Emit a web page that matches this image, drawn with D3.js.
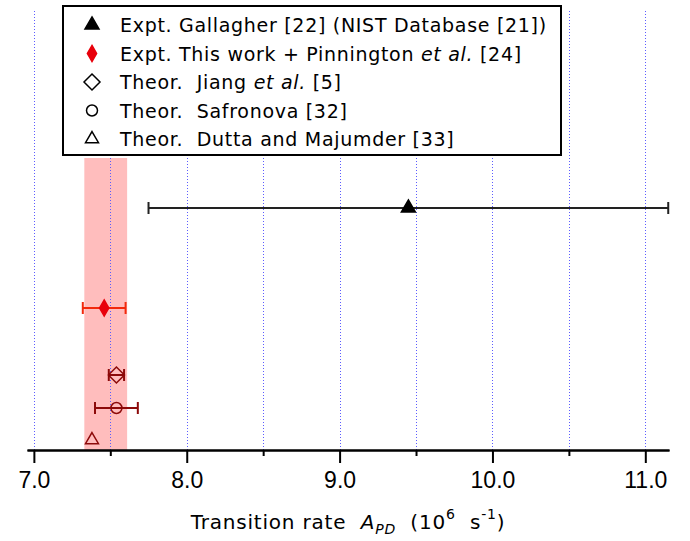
<!DOCTYPE html>
<html>
<head>
<meta charset="utf-8">
<script src="https://cdn.jsdelivr.net/npm/d3@7"></script>
<style>
  body { margin: 0; background: #fff; }
  svg text { font-family: "DejaVu Sans", Verdana, sans-serif; white-space: pre; }
</style>
</head>
<body>
<div id="chart"></div>
<script>
var svgWidth = 690;
var svgHeight = 541;

// data
var seriesNames = ["Gallagher", "This work + Pinnington", "Jiang", "Safronova", "Dutta and Majumder"];
var rates = [9.45, 7.46, 7.54, 7.54, 7.38];          // 10^6 s^-1
var rateErrors = [1.70, 0.14, 0.05, 0.14, 0];
var rowLevels = [24.2, 14.2, 7.5, 4.2, 1.0];          // vertical placement (arbitrary units)
var bandRange = [7.33, 7.61];                         // shaded band for this work
var bandTop = 29.2;
var majorTicks = [7, 8, 9, 10, 11];
var minorTicks = [7.5, 8.5, 9.5, 10.5];
var gridTicks = [7, 7.5, 8, 8.5, 9, 9.5, 10, 10.5, 11];

var x = d3.scaleLinear().domain([6.955, 11.155]).range([27, 669]);
var y = d3.scaleLinear().domain([0, 43.9]).range([450, 11]);

var svg = d3.select("#chart").append("svg").attr("width", svgWidth).attr("height", svgHeight);

// shaded band
svg.append("rect")
    .attr("x", x(bandRange[0])).attr("width", x(bandRange[1]) - x(bandRange[0]))
    .attr("y", y(bandTop)).attr("height", y(0) - y(bandTop))
    .attr("fill", "#ffbdbd");

// dotted grid
svg.append("g").selectAll("line").data(gridTicks).enter().append("line")
    .attr("x1", d => Math.round(x(d)) + 0.5).attr("x2", d => Math.round(x(d)) + 0.5)
    .attr("y1", y(43.9)).attr("y2", y(0))
    .attr("stroke", "#5c5cff").attr("stroke-width", 1).attr("stroke-dasharray", "1,2");

// axes
var majorAxis = d3.axisBottom(x).tickValues(majorTicks).tickSize(13).tickSizeOuter(0).tickPadding(9)
    .tickFormat(d3.format(".1f"));
var minorAxis = d3.axisBottom(x).tickValues(minorTicks).tickSize(6).tickSizeOuter(0).tickFormat("");

var gMinor = svg.append("g").attr("transform", `translate(0,${y(0)})`).call(minorAxis);
var gMajor = svg.append("g").attr("transform", `translate(0,${y(0)})`).call(majorAxis);
[gMinor, gMajor].forEach(function(g) {
    g.selectAll("path, line").attr("stroke", "#000").attr("stroke-width", 2);
});
gMajor.selectAll("text").attr("fill", "#000").attr("font-size", "23px")
    .style("font-family", "'Liberation Sans', Arial, sans-serif");

// axis title
var title = svg.append("text").attr("x", (x.range()[0] + x.range()[1]) / 2).attr("y", 529)
    .attr("text-anchor", "middle").attr("font-size", "20px").attr("fill", "#000")
    .style("letter-spacing", "0.8px");
title.append("tspan").text("Transition rate  ");
title.append("tspan").attr("font-style", "italic").text("A");
title.append("tspan").attr("font-style", "italic").attr("font-size", "14px").attr("dy", 5).text("PD");
title.append("tspan").attr("dy", -5).text("  (10");
title.append("tspan").attr("font-size", "14px").attr("dy", -10).text("6");
title.append("tspan").attr("dy", 10).text("  s");
title.append("tspan").attr("font-size", "14px").attr("dy", -10).text("-1");
title.append("tspan").attr("dy", 10).text(")");

// marker shapes
var openDiamond = {
    draw: function(ctx, size) {
        var r = Math.sqrt(size / 2);
        ctx.moveTo(0, -r); ctx.lineTo(r, 0); ctx.lineTo(0, r); ctx.lineTo(-r, 0); ctx.closePath();
    }
};
var shapes = [
    { type: d3.symbolTriangle, size: 85, fill: "#000", stroke: "#000", bar: "#222" },
    { type: d3.symbolDiamond, size: 74, fill: "#e8000b", stroke: "#e8000b", bar: "#f2290d" },
    { type: openDiamond, size: 128, fill: "none", stroke: "#8c0a0a", bar: "#8c0a0a" },
    { type: d3.symbolCircle, size: 95, fill: "none", stroke: "#8c0a0a", bar: "#8c0a0a" },
    { type: d3.symbolTriangle, size: 73, fill: "none", stroke: "#8c0a0a", bar: "#8c0a0a" }
];

var points = seriesNames.map(function(name, i) {
    return { name: name, rate: rates[i], err: rateErrors[i], row: rowLevels[i], shape: shapes[i] };
});

// error bars
var bars = svg.append("g").selectAll("g").data(points.filter(d => d.err > 0)).enter().append("g")
    .attr("stroke", d => d.shape.bar).attr("stroke-width", 2);
bars.append("line")
    .attr("x1", d => x(d.rate - d.err)).attr("x2", d => x(d.rate + d.err))
    .attr("y1", d => y(d.row)).attr("y2", d => y(d.row));
bars.append("line")
    .attr("x1", d => x(d.rate - d.err)).attr("x2", d => x(d.rate - d.err))
    .attr("y1", d => y(d.row) - 6).attr("y2", d => y(d.row) + 6);
bars.append("line")
    .attr("x1", d => x(d.rate + d.err)).attr("x2", d => x(d.rate + d.err))
    .attr("y1", d => y(d.row) - 6).attr("y2", d => y(d.row) + 6);

// markers
svg.append("g").selectAll("path").data(points).enter().append("path")
    .attr("d", d => d3.symbol().type(d.shape.type).size(d.shape.size)())
    .attr("transform", d => `translate(${x(d.rate)},${y(d.row)})`)
    .attr("fill", d => d.shape.fill).attr("stroke", d => d.shape.stroke).attr("stroke-width", 1.5);

// legend
var legendRows = [
    [["Expt. Gallagher [22] (NIST Database [21])", false]],
    [["Expt. This work + Pinnington ", false], ["et al.", true], [" [24]", false]],
    [["Theor.  Jiang ", false], ["et al.", true], [" [5]", false]],
    [["Theor.  Safronova [32]", false]],
    [["Theor.  Dutta and Majumder [33]", false]]
];
var legend = svg.append("g");
legend.append("rect").attr("x", 63).attr("y", 6).attr("width", 498).attr("height", 149)
    .attr("fill", "#fff").attr("stroke", "#000").attr("stroke-width", 2);
var rowY = d3.scaleLinear().domain([0, 4]).range([25, 139]);
var legendItems = legend.selectAll("g.item").data(points).enter().append("g").attr("class", "item")
    .attr("transform", (d, i) => `translate(0,${rowY(i)})`);
legendItems.append("path")
    .attr("d", d => d3.symbol().type(d.shape.type).size(d.shape.size)())
    .attr("transform", "translate(92,0)")
    .attr("fill", (d, i) => i < 2 ? d.shape.fill : "none")
    .attr("stroke", (d, i) => i < 2 ? d.shape.stroke : "#000").attr("stroke-width", 1.5);
legendItems.append("text").attr("x", 120).attr("y", 7).attr("font-size", "19px").attr("fill", "#000")
    .style("letter-spacing", "0.7px")
    .each(function(d, i) {
        var t = d3.select(this);
        legendRows[i].forEach(function(part) {
            t.append("tspan").attr("font-style", part[1] ? "italic" : "normal").text(part[0]);
        });
    });
</script>
</body>
</html>
